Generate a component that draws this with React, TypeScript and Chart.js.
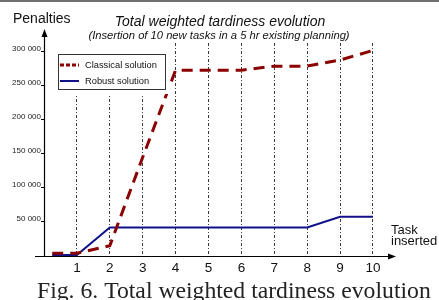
import React, { useEffect, useRef } from "react";
import { Chart, registerables } from "chart.js";

Chart.register(...registerables);

const taskX = [0.25, 1, 2, 3, 4, 5, 6, 7, 8, 9, 10];
const classicalValues = [4000, 4000, 15000, 145000, 273000, 273000, 273000, 279000, 279000, 288000, 302000];
const robustValues = [1500, 1500, 42000, 42000, 42000, 42000, 42000, 42000, 42000, 57500, 57500];
const xTickValues = [1, 2, 3, 4, 5, 6, 7, 8, 9, 10];
const xTickLabels = ["1", "2", "3", "4", "5", "6", "7", "8", "9", "10"];
const yTickValues = [50000, 100000, 150000, 200000, 250000, 300000];
const yTickLabels = ["50 000", "100 000", "150 000", "200 000", "250 000", "300 000"];
const seriesLabels = ["Classical solution", "Robust solution"];
const titleText = "Total weighted tardiness evolution";
const subtitleText = "(Insertion of 10 new tasks in a 5 hr existing planning)";
const captionText = "Fig. 6. Total weighted tardiness evolution";

const RED = "#8b0000";
const BLUE = "#10108a";
const SANS = '"Liberation Sans", Arial, sans-serif';

const decorPlugin = {
  id: "decor",
  beforeDraw(chart: any) {
    const ctx = chart.ctx;
    ctx.save();
    ctx.fillStyle = "#ffffff";
    ctx.fillRect(0, 0, chart.width, chart.height);
    ctx.fillStyle = "#707070";
    ctx.fillRect(0, 0, chart.width, 2);
    ctx.restore();
  },
  afterDatasetsDraw(chart: any) {
    const ctx = chart.ctx;
    ctx.save();
    ctx.fillStyle = "#ffffff";
    ctx.fillRect(56, 40, 114, 54);
    ctx.strokeStyle = "#333333";
    ctx.lineWidth = 1;
    ctx.strokeRect(58.5, 54.5, 107, 35);
    const ds = chart.data.datasets;
    const rows = [65, 81];
    ds.forEach((d: any, i: number) => {
      ctx.beginPath();
      ctx.strokeStyle = d.borderColor;
      ctx.lineWidth = i === 0 ? 3 : 2;
      ctx.setLineDash(i === 0 ? [4, 2] : []);
      ctx.moveTo(60, rows[i]);
      ctx.lineTo(79, rows[i]);
      ctx.stroke();
      ctx.setLineDash([]);
      ctx.fillStyle = "#111";
      ctx.font = `9.3px ${SANS}`;
      ctx.textBaseline = "middle";
      ctx.textAlign = "left";
      ctx.fillText(d.label, 85, rows[i] + 0.5);
    });
    ctx.restore();
  },
  afterDraw(chart: any) {
    const ctx = chart.ctx;
    const a = chart.chartArea;
    ctx.save();
    ctx.strokeStyle = "#000";
    ctx.fillStyle = "#000";
    ctx.lineWidth = 1.2;
    const yx = Math.round(a.left) + 0.5;
    ctx.beginPath();
    ctx.moveTo(yx, a.bottom);
    ctx.lineTo(yx, 35);
    ctx.stroke();
    ctx.beginPath();
    ctx.moveTo(yx, 29);
    ctx.lineTo(yx - 3, 37);
    ctx.lineTo(yx + 3, 37);
    ctx.closePath();
    ctx.fill();
    const xy = Math.round(a.bottom) + 0.5;
    ctx.beginPath();
    ctx.moveTo(35, xy);
    ctx.lineTo(389, xy);
    ctx.stroke();
    ctx.beginPath();
    ctx.moveTo(396, xy);
    ctx.lineTo(388, xy - 3);
    ctx.lineTo(388, xy + 3);
    ctx.closePath();
    ctx.fill();

    ctx.textAlign = "center";
    ctx.textBaseline = "alphabetic";
    ctx.fillStyle = "#111";
    ctx.font = `italic 14px ${SANS}`;
    ctx.fillText(titleText, 220, 26);
    ctx.font = `italic 11.2px ${SANS}`;
    ctx.fillText(subtitleText, 219, 38.5);

    ctx.textAlign = "left";
    ctx.font = `14px ${SANS}`;
    ctx.fillText("Penalties", 13, 22.5);
    ctx.font = `13px ${SANS}`;
    ctx.fillText("Task", 391, 234);
    ctx.fillText("inserted", 391, 245);

    ctx.font = `20px "Liberation Serif", serif`;
    const w = ctx.measureText(captionText).width;
    const size = (20 * 394) / w;
    ctx.font = `${size}px "Liberation Serif", serif`;
    ctx.fillStyle = "#222";
    ctx.fillText(captionText, 37, 298);
    ctx.restore();
  },
};

export default function App() {
  const ref = useRef<HTMLCanvasElement | null>(null);
  useEffect(() => {
    if (!ref.current) return;
    const chart = new Chart(ref.current, {
      type: "line",
      data: {
        datasets: [
          {
            label: seriesLabels[0],
            data: taskX.map((x, i) => ({ x, y: classicalValues[i] })),
            borderColor: RED,
            borderWidth: 3,
            borderDash: [11, 7],
            pointRadius: 0,
            tension: 0,
            fill: false,
          },
          {
            label: seriesLabels[1],
            data: taskX.map((x, i) => ({ x, y: robustValues[i] })),
            borderColor: BLUE,
            borderWidth: 2,
            pointRadius: 0,
            tension: 0,
            fill: false,
          },
        ],
      },
      options: {
        animation: false,
        responsive: false,
        devicePixelRatio: 1,
        layout: { padding: { left: 0, right: 43, top: 43, bottom: 24 } },
        plugins: { legend: { display: false }, title: { display: false }, tooltip: { enabled: false } },
        scales: {
          x: {
            type: "linear",
            min: 0,
            max: 10.7,
            afterFit(scale: any) {
              scale.height = 20;
            },
            afterBuildTicks(scale: any) {
              scale.ticks = xTickValues.map((v) => ({ value: v }));
            },
            ticks: {
              autoSkip: false,
              maxRotation: 0,
              padding: 4,
              color: "#111",
              font: { family: SANS, size: 13.5 },
              callback: (v: any) => xTickLabels[xTickValues.indexOf(Number(v))] ?? "",
            },
            grid: {
              drawTicks: false,
              lineWidth: 1,
              color: "#3a3a3a",
            },
            border: { display: false, dash: [3, 2, 1, 2] },
          },
          y: {
            type: "linear",
            min: 0,
            max: 313000,
            afterFit(scale: any) {
              scale.width = 44;
            },
            afterBuildTicks(scale: any) {
              scale.ticks = yTickValues.map((v) => ({ value: v }));
            },
            ticks: {
              autoSkip: false,
              padding: 0,
              color: "#222",
              font: { family: SANS, size: 8, lineHeight: 0.75 },
              callback: (v: any) => [yTickLabels[yTickValues.indexOf(Number(v))] ?? "", ""],
            },
            grid: {
              drawOnChartArea: false,
              drawTicks: true,
              tickLength: 3,
              tickColor: "#000",
            },
            border: { display: false },
          },
        },
      },
      plugins: [decorPlugin],
    } as any);
    return () => chart.destroy();
  }, []);
  return (
    <div style={{ position: "absolute", left: 0, top: 0, width: 439, height: 300 }}>
      <canvas ref={ref} width={439} height={300} style={{ width: 439, height: 300 }} />
    </div>
  );
}
